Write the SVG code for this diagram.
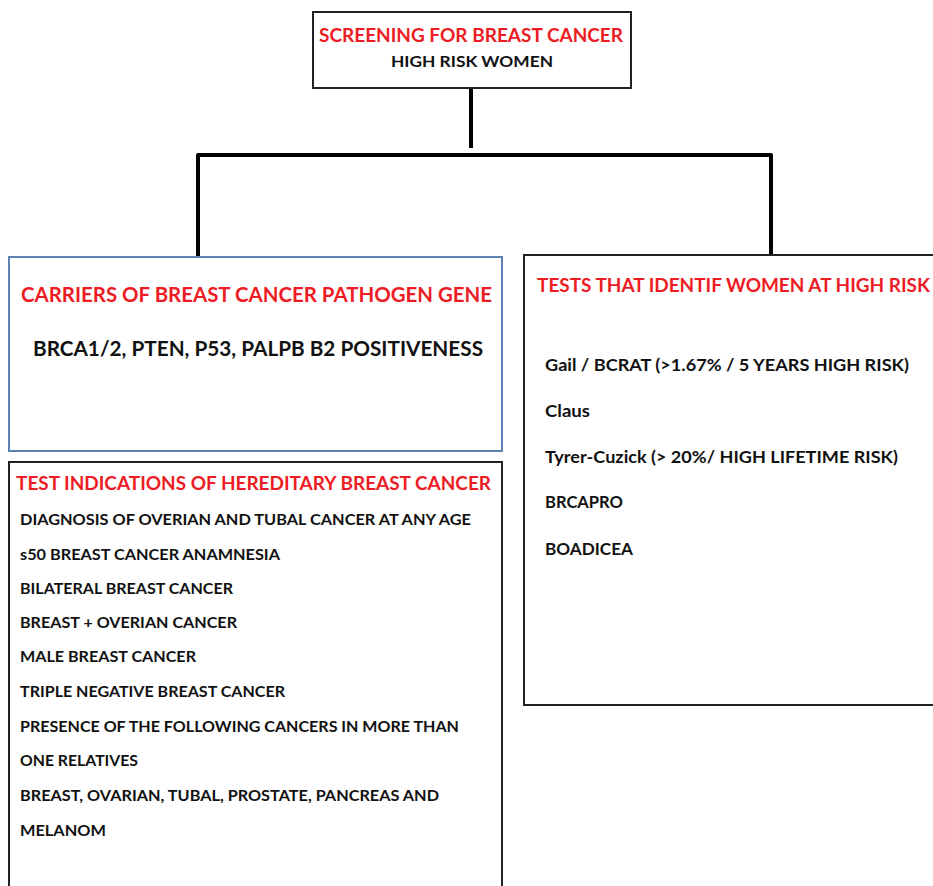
<svg xmlns="http://www.w3.org/2000/svg" width="933" height="886" viewBox="0 0 933 886">
  <style>
    text { font-family: Lato, "Open Sans", "Liberation Sans", sans-serif; font-weight: bold; fill: #111; }
    .red { fill: #ED1C24; }
    .box { fill: #fff; stroke: #222; stroke-width: 2; }
    .blue { fill: #fff; stroke: #5E82B4; stroke-width: 2; }
    .conn { fill: none; stroke: #000; stroke-width: 4; stroke-linejoin: round; }
  </style>
  <rect width="933" height="886" fill="#fff"/>

  <!-- connectors -->
  <g id="connectors">
    <line class="conn" x1="471" y1="88" x2="471" y2="148"/>
    <polyline class="conn" points="198,257 198,155 771,155 771,255"/>
  </g>

  <!-- root -->
  <g id="root">
    <rect class="box" x="313" y="12" width="318" height="76"/>
    <text class="red" x="319" y="42" font-size="18.5" textLength="304" lengthAdjust="spacingAndGlyphs">SCREENING FOR BREAST CANCER</text>
    <text x="391" y="67" font-size="16" textLength="162" lengthAdjust="spacingAndGlyphs">HIGH RISK WOMEN</text>
  </g>

  <!-- gene carriers -->
  <g id="carriers">
    <rect class="blue" x="9" y="257" width="493" height="194"/>
    <text class="red" x="21" y="302" font-size="21" textLength="471" lengthAdjust="spacingAndGlyphs">CARRIERS OF BREAST CANCER PATHOGEN GENE</text>
    <text x="33" y="356" font-size="20" textLength="450" lengthAdjust="spacingAndGlyphs">BRCA1/2, PTEN, P53, PALPB B2 POSITIVENESS</text>
  </g>

  <!-- risk models -->
  <g id="risk-tests">
    <rect class="box" x="524" y="255" width="420" height="450"/>
    <text class="red" x="537" y="292" font-size="19.5" textLength="393" lengthAdjust="spacingAndGlyphs">TESTS THAT IDENTIF WOMEN AT HIGH RISK</text>
    <text x="545" y="371" font-size="17" textLength="364" lengthAdjust="spacingAndGlyphs">Gail / BCRAT (&gt;1.67% / 5 YEARS HIGH RISK)</text>
    <text x="545" y="417" font-size="17" textLength="45" lengthAdjust="spacingAndGlyphs">Claus</text>
    <text x="545" y="463" font-size="17" textLength="353" lengthAdjust="spacingAndGlyphs">Tyrer-Cuzick (&gt; 20%/ HIGH LIFETIME RISK)</text>
    <text x="545" y="508" font-size="17" textLength="78" lengthAdjust="spacingAndGlyphs">BRCAPRO</text>
    <text x="545" y="555" font-size="17" textLength="88" lengthAdjust="spacingAndGlyphs">BOADICEA</text>
  </g>

  <!-- hereditary test indications -->
  <g id="indications">
    <rect class="box" x="9" y="462" width="493" height="440"/>
    <text class="red" x="16" y="490" font-size="19.5" textLength="475" lengthAdjust="spacingAndGlyphs">TEST INDICATIONS OF HEREDITARY BREAST CANCER</text>
    <text x="20" y="525" font-size="16" textLength="451" lengthAdjust="spacingAndGlyphs">DIAGNOSIS OF OVERIAN AND TUBAL CANCER AT ANY AGE</text>
    <text x="20" y="560" font-size="16" textLength="260" lengthAdjust="spacingAndGlyphs">s50 BREAST CANCER ANAMNESIA</text>
    <text x="20" y="594" font-size="16" textLength="213" lengthAdjust="spacingAndGlyphs">BILATERAL BREAST CANCER</text>
    <text x="20" y="628" font-size="16" textLength="217" lengthAdjust="spacingAndGlyphs">BREAST + OVERIAN CANCER</text>
    <text x="20" y="662" font-size="16" textLength="176" lengthAdjust="spacingAndGlyphs">MALE BREAST CANCER</text>
    <text x="20" y="697" font-size="16" textLength="265" lengthAdjust="spacingAndGlyphs">TRIPLE NEGATIVE BREAST CANCER</text>
    <text x="20" y="732" font-size="16" textLength="439" lengthAdjust="spacingAndGlyphs">PRESENCE OF THE FOLLOWING CANCERS IN MORE THAN</text>
    <text x="20" y="766" font-size="16" textLength="118" lengthAdjust="spacingAndGlyphs">ONE RELATIVES</text>
    <text x="20" y="801" font-size="16" textLength="419" lengthAdjust="spacingAndGlyphs">BREAST, OVARIAN, TUBAL, PROSTATE, PANCREAS AND</text>
    <text x="20" y="836" font-size="16" textLength="86" lengthAdjust="spacingAndGlyphs">MELANOM</text>
  </g>
</svg>
